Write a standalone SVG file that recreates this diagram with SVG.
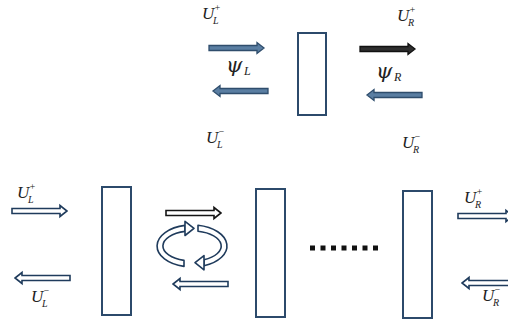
<svg xmlns="http://www.w3.org/2000/svg" width="508" height="321" viewBox="0 0 508 321">
<style>
.box{fill:#fff;stroke:#2c4a6b;stroke-width:2}
.ab{fill:#5a7ea2;stroke:#2f4d6c;stroke-width:1.3}
.ak{fill:#2e2e2e;stroke:#111;stroke-width:1.3}
.aw{fill:#fff;stroke:#1f3b5c;stroke-width:1.6}
.awk{fill:#fff;stroke:#151515;stroke-width:1.6}
.rib{fill:#fff;stroke:#1f3b5c;stroke-width:1.6;stroke-linejoin:round}
.u{font-family:"Liberation Serif",serif;font-style:italic;font-size:17px;fill:#222}
.s{font-family:"Liberation Serif",serif;font-style:italic;font-size:10px;fill:#222}
.p{font-family:"DejaVu Serif",serif;font-style:italic;font-size:21px;fill:#222}
.ps{font-family:"Liberation Serif",serif;font-style:italic;font-size:12px;fill:#222}
</style>
<defs>
<path id="ar" d="M0 -2.5 H48 V-5.5 L55 0 L48 5.5 V2.5 H0 Z"/>
<path id="al" d="M55 -2.5 H7 V-5.5 L0 0 L7 5.5 V2.5 H55 Z"/>
</defs>
<g id="top-cell"><rect class="box" x="298" y="33" width="28" height="82"/></g>
<g id="cell1"><rect class="box" x="102" y="187" width="29" height="128"/></g>
<g id="cell2"><rect class="box" x="256" y="189" width="29" height="128"/></g>
<g id="cell3"><rect class="box" x="403" y="191" width="29" height="127"/></g>
<g id="connectors">
<use href="#ar" class="ab" x="209" y="48"/>
<use href="#al" class="ab" x="213" y="91"/>
<use href="#ar" class="ak" x="360" y="49"/>
<use href="#al" class="ab" x="367" y="95"/>
<use href="#ar" class="aw" x="12" y="211"/>
<use href="#al" class="aw" x="15" y="278"/>
<use href="#ar" class="awk" x="166" y="213"/>
<use href="#al" class="aw" x="173" y="284"/>
<use href="#ar" class="aw" x="458" y="216"/>
<use href="#al" class="aw" x="462" y="283"/>
</g>
<g id="rotation">
<path class="rib" d="M184 266.4 A35 21 0 0 1 185 225.4 L185 231.4 A29 15 0 0 0 184 260.4 Z"/>
<polygon class="rib" points="185,221.3 194,228.4 185,235.5"/>
<path class="rib" d="M198 225.3 A35 21 0 0 1 204 265.7 L204 259.7 A29 15 0 0 0 198 231.3 Z"/>
<polygon class="rib" points="204,255.6 195,262.7 204,269.8"/>
</g>
<g id="dots" fill="#111">
<rect x="310" y="245.5" width="5" height="5"/>
<rect x="320.5" y="245.5" width="5" height="5"/>
<rect x="331" y="245.5" width="5" height="5"/>
<rect x="341.5" y="245.5" width="5" height="5"/>
<rect x="352" y="245.5" width="5" height="5"/>
<rect x="362.5" y="245.5" width="5" height="5"/>
<rect x="373" y="245.5" width="5" height="5"/>
</g>
<g id="labels">
<text class="u" x="202" y="19">U</text><text class="s" x="214" y="11">+</text><text class="s" x="213" y="24">L</text>
<text class="u" x="397" y="21">U</text><text class="s" x="409" y="13">+</text><text class="s" x="408" y="26">R</text>
<text class="p" x="226" y="72">ψ</text><text class="ps" x="244" y="75">L</text>
<text class="p" x="376" y="78">ψ</text><text class="ps" x="394" y="81">R</text>
<text class="u" x="206" y="143">U</text><text class="s" x="218" y="135">−</text><text class="s" x="217" y="148">L</text>
<text class="u" x="402" y="148">U</text><text class="s" x="414" y="140">−</text><text class="s" x="413" y="153">R</text>
<text class="u" x="17" y="198">U</text><text class="s" x="29" y="190">+</text><text class="s" x="28" y="203">L</text>
<text class="u" x="31" y="302">U</text><text class="s" x="43" y="294">−</text><text class="s" x="42" y="307">L</text>
<text class="u" x="464" y="203">U</text><text class="s" x="476" y="195">+</text><text class="s" x="475" y="208">R</text>
<text class="u" x="482" y="301">U</text><text class="s" x="494" y="293">−</text><text class="s" x="493" y="306">R</text>
</g>
</svg>
